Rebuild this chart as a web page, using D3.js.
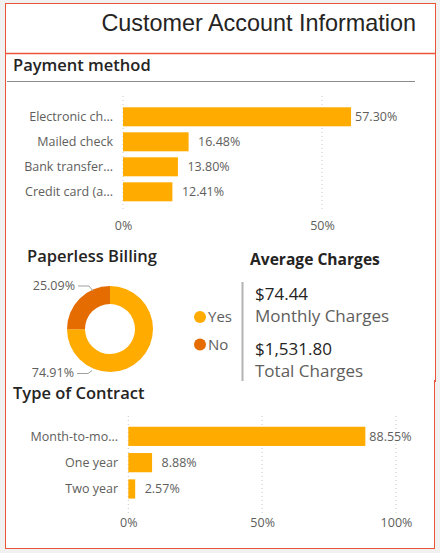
<!DOCTYPE html>
<html>
<head>
<meta charset="utf-8">
<script src="https://cdn.jsdelivr.net/npm/d3@7"></script>
<style>
  html, body { margin: 0; padding: 0; background: #f1f1f1; }
  svg { display: block; }
</style>
</head>
<body>
<svg id="chart" width="440" height="553"></svg>
<script>
// ---- data ----
const titleText = "Customer Account Information";
const payCategories = ["Electronic ch...", "Mailed check", "Bank transfer...", "Credit card (a..."];
const payValues = [57.30, 16.48, 13.80, 12.41];
const payTicks = [0, 50];
const paperCategories = ["Yes", "No"];
const paperValues = [74.91, 25.09];
const avgValues = ["$74.44", "$1,531.80"];
const avgLabels = ["Monthly Charges", "Total Charges"];
const contractCategories = ["Month-to-mo...", "One year", "Two year"];
const contractValues = [88.55, 8.88, 2.57];
const contractTicks = [0, 50, 100];

// ---- styles ----
const FONT = "'Segoe UI', 'Open Sans', sans-serif";
const BAR = "#FFAB00";
const DARK = "#E46C00";
const RED = "#E9553A";
const LABEL = "#605E5C";
const TITLE = "#252423";

const svg = d3.select("#chart");

// panels
svg.append("rect").attr("x", 5.5).attr("y", 3.5).attr("width", 430).attr("height", 378)
  .attr("fill", "#fff").attr("stroke", RED).attr("stroke-width", 1).attr("shape-rendering", "crispEdges");
svg.append("line").attr("x1", 5).attr("x2", 436).attr("y1", 53.5).attr("y2", 53.5)
  .attr("stroke", RED).attr("stroke-width", 1.4);
svg.append("rect").attr("x", 5.5).attr("y", 380).attr("width", 428.5).attr("height", 169)
  .attr("fill", "#fff").attr("stroke", "none");
svg.append("path").attr("d", "M5.5,380 V548.5 H434.5 V380")
  .attr("fill", "none").attr("stroke", RED).attr("stroke-width", 1).attr("shape-rendering", "crispEdges");

// title
svg.append("text").attr("x", 416).attr("y", 31).attr("text-anchor", "end")
  .attr("font-family", "'Liberation Sans', Arial, sans-serif").attr("font-size", 23.4)
  .attr("fill", TITLE).text(titleText);

function sectionTitle(txt, x, y) {
  svg.append("text").attr("x", x).attr("y", y)
    .attr("font-family", FONT).attr("font-size", 16.5).attr("font-weight", 600)
    .attr("fill", TITLE).text(txt);
}
sectionTitle("Payment method", 13, 71);
svg.append("line").attr("x1", 7).attr("x2", 415).attr("y1", 81.5).attr("y2", 81.5)
  .attr("stroke", "#8a8a8a").attr("stroke-width", 1);

// ---- bar chart helper ----
function barChart(cats, vals, ticks, xScale, yScale, gridY0, gridY1, tickY, labelX) {
  const g = svg.append("g");
  const vmax = d3.max(vals);
  g.selectAll("line.grid").data(ticks).join("line")
    .attr("x1", d => xScale(d)).attr("x2", d => xScale(d))
    .attr("y1", gridY0).attr("y2", gridY1)
    .attr("stroke", "#c8c8c8").attr("stroke-width", 1).attr("stroke-dasharray", "1,3");
  const axis = d3.axisBottom(xScale).tickValues(ticks).tickFormat(d => d + "%").tickSize(0).tickPadding(0);
  const ax = g.append("g").attr("transform", `translate(0,${tickY})`).call(axis);
  ax.select(".domain").remove();
  ax.selectAll("text").attr("font-family", FONT).attr("font-size", 12.5).attr("fill", LABEL);
  const data = cats.map((c, i) => ({ c, v: vals[i] }));
  g.selectAll("rect.bar").data(data).join("rect")
    .attr("x", xScale(0)).attr("y", d => yScale(d.c))
    .attr("width", d => xScale(d.v) - xScale(0)).attr("height", yScale.bandwidth())
    .attr("fill", BAR);
  g.selectAll("text.val").data(data).join("text")
    .attr("x", d => xScale(d.v) + (d.v === vmax ? 4 : 9.5)).attr("y", d => yScale(d.c) + yScale.bandwidth() / 2)
    .attr("dy", "0.35em").attr("font-family", FONT).attr("font-size", 12.5).attr("fill", LABEL)
    .text(d => d.v.toFixed(2) + "%");
  g.selectAll("text.cat").data(data).join("text")
    .attr("x", labelX).attr("y", d => yScale(d.c) + yScale.bandwidth() / 2)
    .attr("dy", "0.35em").attr("text-anchor", "end")
    .attr("font-family", FONT).attr("font-size", 12.5).attr("fill", LABEL)
    .text(d => d.c);
}

// payment method
const xPay = d3.scaleLinear().domain([0, 50]).range([123, 322]);
const yPay = d3.scaleBand().domain(payCategories).range([104.3, 204.3]).paddingInner(0.24).paddingOuter(0.12);
barChart(payCategories, payValues, payTicks, xPay, yPay, 96, 211, 221.5, 113);

// ---- paperless billing donut ----
sectionTitle("Paperless Billing", 27, 262);
const cx = 110, cy = 329, rOut = 43, rIn = 25;
const pie = d3.pie().sort(null).value(d => d.v);
const pdata = pie(paperCategories.map((c, i) => ({ c, v: paperValues[i] })));
const color = d3.scaleOrdinal().domain(paperCategories).range([BAR, DARK]);
const arc = d3.arc().innerRadius(rIn).outerRadius(rOut);
const dg = svg.append("g").attr("transform", `translate(${cx},${cy})`);
dg.selectAll("path").data(pdata).join("path").attr("d", arc).attr("fill", d => color(d.data.c));

// leader lines & labels
const lblNo = pdata[1], lblYes = pdata[0];
svg.append("polyline").attr("points", "78,286 89,286 93,291")
  .attr("fill", "none").attr("stroke", "#a0a0a0").attr("stroke-width", 1);
svg.append("text").attr("x", 75).attr("y", 286).attr("dy", "0.35em").attr("text-anchor", "end")
  .attr("font-family", FONT).attr("font-size", 12.5).attr("fill", LABEL)
  .text(lblNo.data.v.toFixed(2) + "%");
svg.append("polyline").attr("points", "77,373.5 88,373.5 92,370.5")
  .attr("fill", "none").attr("stroke", "#a0a0a0").attr("stroke-width", 1);
svg.append("text").attr("x", 74).attr("y", 373).attr("dy", "0.35em").attr("text-anchor", "end")
  .attr("font-family", FONT).attr("font-size", 12.5).attr("fill", LABEL)
  .text(lblYes.data.v.toFixed(2) + "%");

// legend
const lg = svg.append("g");
paperCategories.forEach((c, i) => {
  const y = 317 + i * 27.5;
  lg.append("circle").attr("cx", 200).attr("cy", y).attr("r", 6).attr("fill", color(c));
  lg.append("text").attr("x", 208).attr("y", y).attr("dy", "0.35em")
    .attr("font-family", FONT).attr("font-size", 15).attr("fill", LABEL).text(c);
});

// ---- average charges ----
svg.append("text").attr("x", 250).attr("y", 265)
  .attr("font-family", FONT).attr("font-size", 15.6).attr("font-weight", 700)
  .attr("fill", TITLE).text("Average Charges");
svg.append("line").attr("x1", 242.5).attr("x2", 242.5).attr("y1", 282).attr("y2", 381)
  .attr("stroke", "#b3b3b3").attr("stroke-width", 2);
avgValues.forEach((v, i) => {
  const y0 = 300 + i * 55;
  svg.append("text").attr("x", 255).attr("y", y0)
    .attr("font-family", FONT).attr("font-size", 17).attr("fill", TITLE).text(v);
  svg.append("text").attr("x", 255).attr("y", y0 + 22)
    .attr("font-family", FONT).attr("font-size", 17).attr("fill", LABEL).text(avgLabels[i]);
});

// ---- type of contract ----
svg.append("rect").attr("x", 6).attr("y", 381).attr("width", 428).attr("height", 167).attr("fill", "#fff");
sectionTitle("Type of Contract", 13, 399);
const xCon = d3.scaleLinear().domain([0, 100]).range([128.3, 396]);
const yCon = d3.scaleBand().domain(contractCategories).range([423.2, 502.1]).paddingInner(0.27).paddingOuter(0.135);
barChart(contractCategories, contractValues, contractTicks, xCon, yCon, 416, 514, 518, 118);
</script>
</body>
</html>
